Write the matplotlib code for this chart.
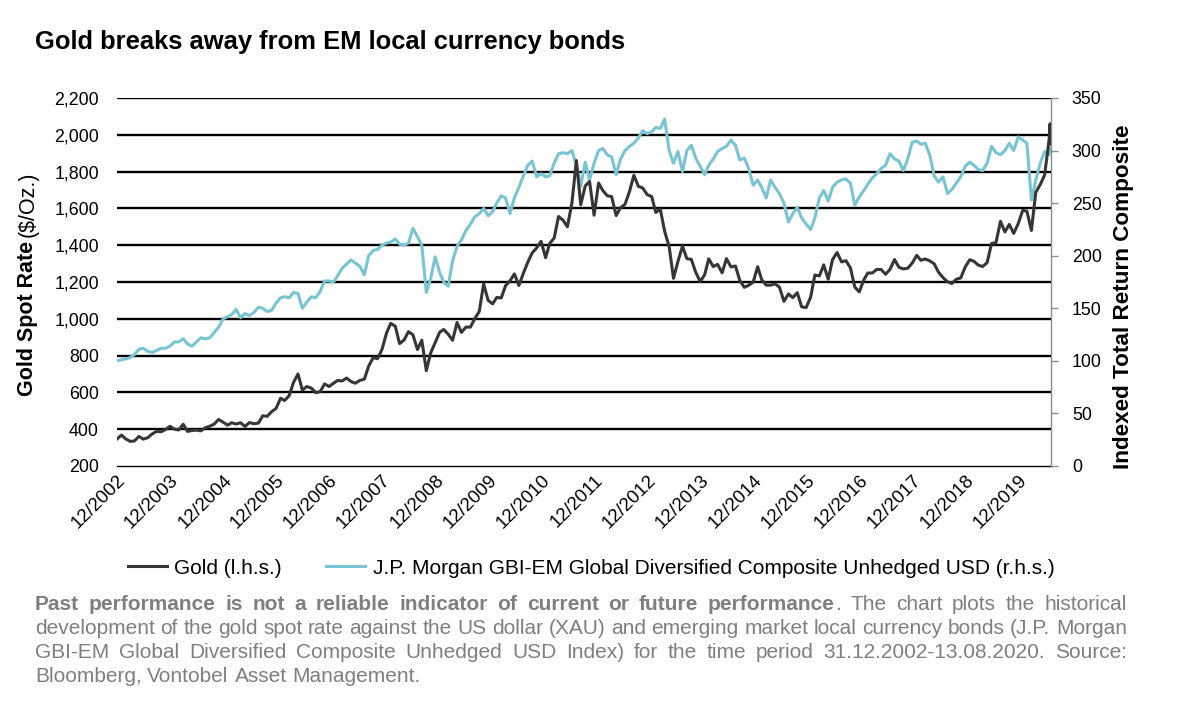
import numpy as np
import pandas as pd
import matplotlib
matplotlib.use('Agg')
import matplotlib.pyplot as plt
import matplotlib.dates as mdates

plt.rcParams['font.family'] = ['Liberation Sans', 'DejaVu Sans']

#--- data (month ends from 12/2002, plus two days in 08/2020)
dates = list(pd.date_range('2002-12-31', '2020-07-31', freq='ME')) + \
        [pd.Timestamp('2020-08-06'), pd.Timestamp('2020-08-13')]

gold = [347,
        368, 348, 334, 336, 361, 346, 354, 375, 388, 386, 398, 416,
        400, 396, 427, 388, 393, 395, 391, 408, 416, 428, 453, 438,
        422, 435, 428, 435, 415, 436, 430, 433, 473, 470, 495, 513,
        568, 556, 582, 654, 700, 613, 632, 623, 599, 604, 646, 632,
        650, 665, 662, 678, 659, 650, 665, 672, 743, 789, 783, 834,
        923, 975, 960, 865, 885, 930, 913, 833, 884, 718, 814, 870,
        927, 942, 916, 883, 980, 926, 955, 955, 1001, 1040, 1190, 1100,
        1081, 1116, 1113, 1180, 1207, 1244, 1181, 1248, 1307, 1359, 1385, 1421,
        1332, 1409, 1439, 1556, 1536, 1500, 1628, 1860, 1620, 1722, 1746, 1563,
        1738, 1697, 1669, 1664, 1561, 1604, 1622, 1692, 1780, 1720, 1711, 1675,
        1664, 1578, 1596, 1476, 1393, 1220, 1312, 1395, 1327, 1323, 1253, 1202,
        1240, 1326, 1284, 1296, 1250, 1327, 1282, 1287, 1208, 1171, 1182, 1199,
        1283, 1212, 1183, 1183, 1190, 1172, 1095, 1135, 1115, 1142, 1065, 1061,
        1118, 1238, 1233, 1293, 1215, 1322, 1360, 1309, 1316, 1277, 1173, 1146,
        1211, 1249, 1249, 1268, 1268, 1242, 1269, 1322, 1280, 1271, 1275, 1303,
        1345, 1318, 1325, 1315, 1299, 1253, 1224, 1201, 1192, 1215, 1222, 1282,
        1321, 1313, 1292, 1284, 1305, 1409, 1414, 1530, 1472, 1513, 1464, 1517,
        1589, 1585, 1480, 1687, 1730, 1781, 1975, 2060, 1950]

em_bonds = [100,
            101, 102, 103, 106, 111, 112, 109, 108, 110, 112, 112, 114,
            118, 118, 121, 116, 114, 118, 122, 121, 122, 127, 132, 140,
            142, 144, 149, 141, 145, 143, 146, 151, 150, 147, 148, 155,
            160, 161, 160, 165, 164, 150, 156, 161, 160, 166, 176, 176,
            175, 181, 188, 192, 196, 193, 190, 182, 200, 205, 206, 210,
            212, 213, 216, 211, 210, 212, 226, 218, 210, 165, 178, 199,
            184, 175, 171, 195, 209, 215, 224, 230, 237, 240, 245, 238,
            242, 250, 257, 255, 240, 255, 265, 276, 286, 290, 275, 278,
            275, 276, 288, 297, 298, 297, 300, 286, 266, 289, 272, 288,
            300, 302, 296, 294, 277, 292, 300, 304, 307, 312, 319, 316,
            318, 322, 321, 330, 300, 288, 299, 280, 300, 305, 293, 285,
            277, 286, 292, 299, 302, 304, 310, 305, 291, 293, 283, 267,
            272, 265, 255, 272, 265, 259, 250, 232, 240, 246, 236, 230,
            225, 236, 255, 262, 252, 265, 270, 272, 273, 269, 248, 256,
            262, 268, 274, 278, 283, 286, 297, 292, 290, 281, 292, 308,
            309, 306, 307, 296, 276, 270, 275, 259, 263, 269, 275, 285,
            289, 286, 282, 281, 288, 304, 298, 296, 300, 307, 300, 313,
            310, 307, 253, 272, 288, 299, 296, 302, 300]

labels = ['Gold (l.h.s.)',
          'J.P. Morgan GBI-EM Global Diversified Composite Unhedged USD (r.h.s.)']

gold_color = '#363636'
em_color = '#79c4d2'
note_color = '#7f7f7f'

W, H = 1180, 709
fig = plt.figure(figsize=(W / 100, H / 100), dpi=100)
ax = fig.add_axes([117 / W, 1 - 466 / H, 934 / W, 368 / H])
ax2 = ax.twinx()

#--- lines: teal behind, gold on top (gold drawn in ax2 with left-axis units)
l_em, = ax2.plot(dates, em_bonds, color=em_color, lw=2.2, zorder=2)
l_gold, = ax2.plot(dates, gold, color=gold_color, lw=2.2, zorder=3, transform=ax.transData)

ax.set_xlim(dates[0], dates[-1])
ax.set_ylim(200, 2200)
ax2.set_ylim(0, 350)

ax.set_yticks(np.arange(200, 2201, 200))
ax.yaxis.set_major_formatter(matplotlib.ticker.FuncFormatter(lambda v, p: f'{v:,.0f}'))
ax2.set_yticks(np.arange(0, 351, 50))

ax.grid(True, axis='y', color='black', lw=1.7)
ax.get_ygridlines()[0].set_visible(False)
ax.set_axisbelow(True)

xt = pd.date_range('2002-12-31', '2019-12-31', freq='12ME')
ax.set_xticks(xt)
ax.xaxis.set_major_formatter(mdates.DateFormatter('%m/%Y'))

for s in ['top', 'left', 'right']:
    ax.spines[s].set_visible(False)
ax.spines['bottom'].set_color('black')
ax.spines['bottom'].set_linewidth(1.0)
for s in ['top', 'left', 'bottom']:
    ax2.spines[s].set_visible(False)
ax2.spines['right'].set_color('#8c8c8c')
ax2.spines['right'].set_linewidth(1.0)

ax.tick_params(axis='y', length=0, pad=13, labelsize=12.8)
ax.tick_params(axis='x', length=0, pad=4, labelsize=13.5)
ax2.tick_params(axis='y', length=5, width=1, color='#8c8c8c', pad=10, labelsize=12.8)
for lab in ax.get_xticklabels():
    lab.set_rotation(45)
    lab.set_ha('right')
    lab.set_va('top')
    lab.set_rotation_mode('anchor')

#--- texts
fig.text(35 / W, 1 - 42 / H, 'Gold breaks away from EM local currency bonds',
         fontsize=18.4, fontweight='bold', va='center', ha='left')

fig.canvas.draw()
r = fig.canvas.get_renderer()

# left axis label: bold part + normal part
t1 = fig.text(28 / W, 1 - 396 / H, 'Gold Spot Rate', rotation=90, fontsize=15.5,
              fontweight='bold', ha='center', va='bottom')
bb = t1.get_window_extent(r)
fig.text(28 / W, (bb.y1 + 4) / H, '($/Oz.)', rotation=90, fontsize=15.5,
         ha='center', va='bottom')

fig.text(1124 / W, 1 - 297 / H, 'Indexed Total Return Composite', rotation=90,
         fontsize=16.2, fontweight='bold', ha='center', va='center')

# legend
fig.legend(handles=[l_gold, l_em], labels=labels, loc='center',
           bbox_to_anchor=(591 / W, 1 - 568 / H), ncol=2, frameon=False,
           fontsize=15, handlelength=1.9, columnspacing=2.1, handletextpad=0.35)

# footnote, justified like the original text box
fs = 15
x0, x1 = 35, 1127


def width(txt, weight):
    t = fig.text(0, 0, txt, fontsize=fs, fontweight=weight)
    w = t.get_window_extent(r).width
    t.remove()
    return w


def put_line(words, y, justify=True):
    # words: list of lists of (text, weight) segments
    ws = [sum(width(s, wt) for s, wt in wd) for wd in words]
    sp = width('a b', 'normal') - width('ab', 'normal')
    if justify and len(words) > 1:
        sp = (x1 - x0 - sum(ws)) / (len(words) - 1)
    x = x0
    for wd, w in zip(words, ws):
        xx = x
        for s, wt in wd:
            fig.text(xx / W, 1 - y / H, s, fontsize=fs, fontweight=wt,
                     color=note_color, va='center', ha='left')
            xx += width(s, wt)
        x += w + sp


bold_part = 'Past performance is not a reliable indicator of current or future performance'
line1 = [[(w, 'bold')] for w in bold_part.split()]
line1[-1] = [('performance', 'bold'), ('.', 'normal')]
line1 += [[(w, 'normal')] for w in 'The chart plots the historical'.split()]
notes = ['development of the gold spot rate against the US dollar (XAU) and emerging market local currency bonds (J.P. Morgan',
         'GBI-EM Global Diversified Composite Unhedged USD Index) for the time period 31.12.2002-13.08.2020. Source:',
         'Bloomberg, Vontobel Asset Management.']

put_line(line1, 604)
for i, line in enumerate(notes):
    put_line([[(w, 'normal')] for w in line.split()], 628 + 24 * i, justify=(i < 2))

fig.savefig('out.png', dpi=100)
